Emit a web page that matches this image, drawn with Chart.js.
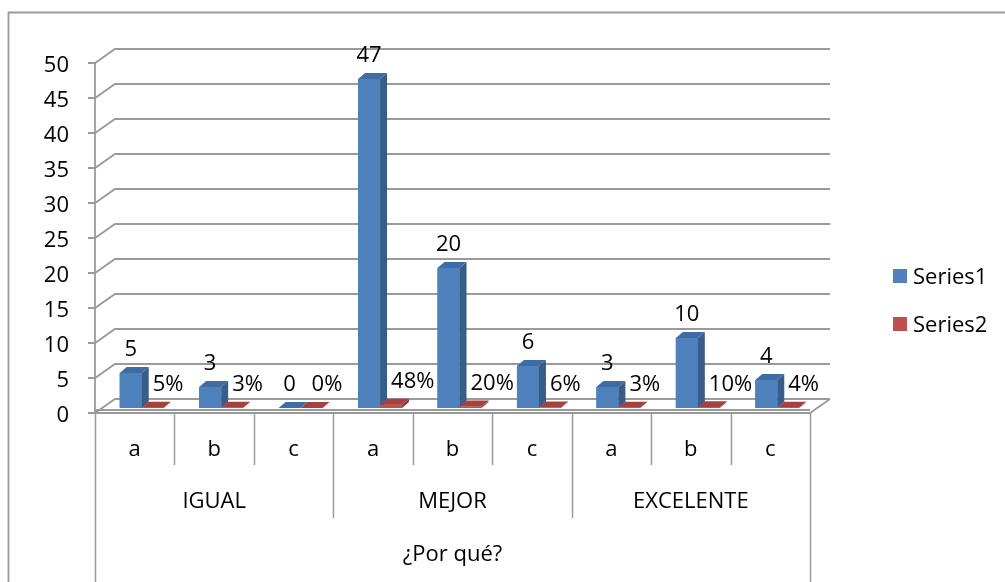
<!DOCTYPE html>
<html>
<head>
<meta charset="utf-8">
<script src="https://cdn.jsdelivr.net/npm/chart.js@4"></script>
<style>
  body { margin: 0; background: #fff; }
  canvas { display: block; }
</style>
</head>
<body>
<canvas id="chart" width="1005" height="582"></canvas>
<script>
const categories = ['a', 'b', 'c', 'a', 'b', 'c', 'a', 'b', 'c'];
const groups = ['IGUAL', 'MEJOR', 'EXCELENTE'];
const axisTitle = '¿Por qué?';
const series1 = [5, 3, 0, 47, 20, 6, 3, 10, 4];
const series2 = [0.05, 0.03, 0, 0.48, 0.20, 0.06, 0.03, 0.10, 0.04];
const seriesNames = ['Series1', 'Series2'];

// 3D look: bars sit a bit behind the front plane, walls further back
const FRONT = { dx: -7, dy: 5 };
const BACK = { dx: 13, dy: -9 };
const DEPTH = { dx: 7, dy: -6 };
const GRID = '#9a9a9a';
const FONT = '22px "Open Sans"';

const faces = [
    { front: '#4f81bd', side: '#385d8a', top: '#3f6ca3' },
    { front: '#c0504d', side: '#8c3a38', top: '#a5413e' }
];

const threeD = {
    id: 'threeD',
    beforeDatasetsDraw(chart) {
        const { ctx, chartArea: a, scales: { y } } = chart;
        const L = a.left + FRONT.dx, R = a.right + FRONT.dx;
        ctx.save();
        ctx.strokeStyle = GRID;
        ctx.lineWidth = 1.8;
        // outer frame
        ctx.beginPath();
        ctx.moveTo(8.5, 582); ctx.lineTo(8.5, 12.5); ctx.lineTo(1005, 12.5);
        ctx.stroke();
        // back wall grid + left wall diagonals + y tick marks
        for (let v = 0; v <= 50; v += 5) {
            const yb = y.getPixelForValue(v);
            const yf = yb + FRONT.dy, yk = yb + BACK.dy;
            ctx.beginPath();
            ctx.moveTo(L - 7, yf); ctx.lineTo(L, yf);
            ctx.lineTo(a.left + BACK.dx, yk); ctx.lineTo(a.right + BACK.dx, yk);
            ctx.stroke();
        }
        // front y axis
        const y0 = y.getPixelForValue(0) + FRONT.dy;
        ctx.beginPath();
        ctx.moveTo(L, y.getPixelForValue(50) + FRONT.dy); ctx.lineTo(L, y0);
        ctx.stroke();
        // floor
        const yk0 = y.getPixelForValue(0) + BACK.dy;
        ctx.beginPath();
        ctx.moveTo(L, y0); ctx.lineTo(R, y0);
        ctx.lineTo(a.right + BACK.dx, yk0);
        ctx.stroke();
        ctx.beginPath();
        ctx.moveTo(L, y0 - 3); ctx.lineTo(R, y0 - 3);
        ctx.stroke();
        ctx.restore();
    },
    afterDatasetsDraw(chart) {
        const { ctx } = chart;
        ctx.save();
        for (let i = 0; i < categories.length; i++) {
            chart.data.datasets.forEach((ds, d) => {
                const bar = chart.getDatasetMeta(d).data[i];
                const { x, y, base, width } = bar.getProps(['x', 'y', 'base', 'width'], true);
                const l = x - width / 2, r = x + width / 2;
                ctx.fillStyle = faces[d].front;
                ctx.fillRect(l, y, width, base - y);
                ctx.fillStyle = faces[d].side;
                ctx.beginPath();
                ctx.moveTo(r, y); ctx.lineTo(r + DEPTH.dx, y + DEPTH.dy);
                ctx.lineTo(r + DEPTH.dx, base + DEPTH.dy); ctx.lineTo(r, base);
                ctx.closePath(); ctx.fill();
                ctx.fillStyle = faces[d].top;
                ctx.beginPath();
                ctx.moveTo(l, y); ctx.lineTo(l + DEPTH.dx, y + DEPTH.dy);
                ctx.lineTo(r + DEPTH.dx, y + DEPTH.dy); ctx.lineTo(r, y);
                ctx.closePath(); ctx.fill();
            });
        }
        // data labels
        ctx.font = FONT;
        ctx.fillStyle = '#000';
        ctx.textBaseline = 'middle';
        chart.getDatasetMeta(0).data.forEach((bar, i) => {
            ctx.textAlign = 'center';
            ctx.fillText(String(series1[i]), bar.x, bar.y - 23);
        });
        chart.getDatasetMeta(1).data.forEach((bar, i) => {
            ctx.textAlign = 'left';
            ctx.fillText(Math.round(series2[i] * 100) + '%', bar.x, bar.y - 23);
        });
        ctx.restore();
    },
    afterDraw(chart) {
        const { ctx, chartArea: a, scales: { y } } = chart;
        const y0 = y.getPixelForValue(0) + FRONT.dy;
        const step = (a.right - a.left) / categories.length;
        ctx.save();
        ctx.strokeStyle = GRID;
        ctx.lineWidth = 1.5;
        for (let i = 0; i <= categories.length; i++) {
            const px = Math.round(a.left + FRONT.dx + i * step) + 0.5;
            let end = 465;
            if (i % 3 === 0) end = 518;
            if (i === 0 || i === categories.length) end = 582;
            ctx.beginPath();
            ctx.moveTo(px, y0); ctx.lineTo(px, end);
            ctx.stroke();
        }
        ctx.font = FONT;
        ctx.fillStyle = '#000';
        ctx.textAlign = 'center';
        ctx.textBaseline = 'middle';
        groups.forEach((g, k) => {
            const cx = a.left + FRONT.dx + (k * 3 + 1.5) * step;
            ctx.fillText(g, cx, 502);
        });
        ctx.fillText(axisTitle, a.left + FRONT.dx + 4.5 * step, 555);
        // legend
        ctx.textAlign = 'left';
        seriesNames.forEach((name, d) => {
            const ly = 276 + d * 48;
            ctx.fillStyle = faces[d].front;
            ctx.fillRect(893, ly - 7, 14, 14);
            ctx.fillStyle = '#000';
            ctx.fillText(name, 913, ly + 2);
        });
        ctx.restore();
    }
};

Chart.defaults.font.family = '"Open Sans"';
Chart.defaults.font.size = 22;
Chart.defaults.color = '#000';

new Chart(document.getElementById('chart'), {
    type: 'bar',
    data: {
        labels: categories,
        datasets: [
            { label: seriesNames[0], data: series1, backgroundColor: faces[0].front },
            { label: seriesNames[1], data: series2, backgroundColor: faces[1].front }
        ]
    },
    options: {
        responsive: false,
        animation: false,
        layout: { padding: { left: 0, top: 58, right: 188, bottom: 0 } },
        datasets: { bar: { categoryPercentage: 0.554, barPercentage: 1 } },
        plugins: { legend: { display: false }, tooltip: { enabled: false } },
        scales: {
            x: {
                grid: { display: false },
                border: { display: false },
                ticks: { autoSkip: false, maxRotation: 0, padding: 21, labelOffset: FRONT.dx },
                afterFit(s) { s.height = 174; }
            },
            y: {
                min: 0,
                max: 50,
                grid: { display: false, drawTicks: false },
                border: { display: false },
                ticks: { stepSize: 5, padding: 33, labelOffset: FRONT.dy + 3 },
                afterFit(s) { s.width = 102; }
            }
        }
    },
    plugins: [threeD]
});
</script>
</body>
</html>
